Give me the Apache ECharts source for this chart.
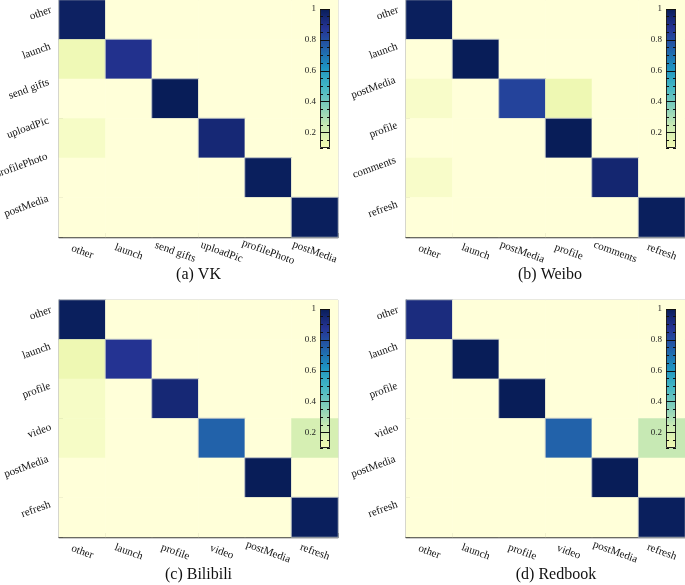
<!DOCTYPE html>
<html><head><meta charset="utf-8">
<script src="https://cdn.jsdelivr.net/npm/echarts@6/dist/echarts.min.js"></script>
<style>html,body{margin:0;padding:0;background:#fff}#c{width:685px;height:585px}</style>
</head><body><div id="c"></div>
<script>
// ---- data ----
const vkCats = ['other','launch','send gifts','uploadPic','profilePhoto','postMedia'];
const vkValues = [
  [0.98,0,0,0,0,0],
  [0.11,0.89,0,0,0,0],
  [0,0,1.0,0,0,0],
  [0.06,0,0,0.94,0,0],
  [0,0,0,0,0.99,0],
  [0,0,0,0,0,0.99]
];
const weiboCats = ['other','launch','postMedia','profile','comments','refresh'];
const weiboValues = [
  [0.99,0,0,0,0,0],
  [0,1.0,0,0,0,0],
  [0.05,0,0.83,0.12,0,0],
  [0,0,0,1.0,0,0],
  [0.05,0,0,0,0.95,0],
  [0,0,0,0,0,0.99]
];
const biliCats = ['other','launch','profile','video','postMedia','refresh'];
const biliValues = [
  [0.99,0,0,0,0,0],
  [0.12,0.88,0,0,0,0],
  [0.06,0,0.94,0,0,0],
  [0.06,0,0,0.74,0,0.20],
  [0,0,0,0,1.0,0],
  [0,0,0,0,0,0.99]
];
const redCats = ['other','launch','profile','video','postMedia','refresh'];
const redValues = [
  [0.92,0,0,0,0,0],
  [0,1.0,0,0,0,0],
  [0,0,1.0,0,0,0],
  [0,0,0,0.74,0,0.25],
  [0,0,0,0,1.0,0],
  [0,0,0,0,0,0.99]
];
const captions = ['(a) VK','(b) Weibo','(c) Bilibili','(d) Redbook'];
const cbTicks = ['0.1','0.15','0.2','0.25','0.3','0.35','0.4','0.45','0.5','0.55','0.6','0.65','0.7','0.75','0.8','0.85','0.9','0.95','1'];
const cbLabels = ['0.2','0.4','0.6','0.8','1'];
const cbRange = [0.1, 1];

// ---- styling / layout ----
const YlGnBu = ['#ffffd9','#edf8b1','#c7e9b4','#7fcdbb','#41b6c4','#1d91c0','#225ea8','#253494','#081d58'];
const FONT = '"Liberation Serif","Times New Roman",serif';
const panels = [
  {cats: vkCats, vals: vkValues, left: 59, top: 0, cap: [198.5, 275], cb: 320},
  {cats: weiboCats, vals: weiboValues, left: 406, top: 0, cap: [550, 275], cb: 666},
  {cats: biliCats, vals: biliValues, left: 59, top: 300, cap: [198.5, 575], cb: 320},
  {cats: redCats, vals: redValues, left: 406, top: 300, cap: [556, 575], cb: 666}
];
const PW = 279, PH = 237;
const ROT = 20 * Math.PI / 180;

const mctx = document.createElement('canvas').getContext('2d');
mctx.font = '11px ' + FONT;
// y labels: raise each rotated label so that its lower-left end sits near the row centre
function yLabelRich(cats) {
  const rich = {t: {fontFamily: FONT, fontSize: 11, color: '#111', lineHeight: 12}};
  cats.forEach((n, k) => {
    const w = mctx.measureText(n).width;
    rich['g' + k] = {fontSize: 1, lineHeight: Math.max(1, Math.round(w * Math.tan(ROT)) - 3)};
  });
  return rich;
}

function hex(c){return [parseInt(c.substr(1,2),16),parseInt(c.substr(3,2),16),parseInt(c.substr(5,2),16)];}
function colorAt(v){
  const t = v*8, i = Math.min(7, Math.floor(t)), f = t - i;
  const a = hex(YlGnBu[i]), b = hex(YlGnBu[i+1]);
  return 'rgb(' + a.map((x,k)=>Math.round(x+(b[k]-x)*f)).join(',') + ')';
}
const stops = [{offset: 0, color: colorAt(cbRange[1])}];
for (let k = 7; k >= 1; k--) {
  const v = k/8;
  if (v > cbRange[0] && v < cbRange[1]) stops.push({offset: (cbRange[1]-v)/(cbRange[1]-cbRange[0]), color: YlGnBu[k]});
}
stops.push({offset: 1, color: colorAt(cbRange[0])});

const grid = [], xAxis = [], yAxis = [], series = [], graphic = [];
const heatIdx = [];
const axisCommon = {
  axisLine: {lineStyle: {color: '#3a3a3a', width: 1.3}},
  axisTick: {show: true, inside: true, length: 4, interval: 0, alignWithLabel: false, lineStyle: {color: '#222'}},
  splitLine: {show: false}, splitArea: {show: false}
};
panels.forEach((p, i) => {
  grid.push({left: p.left, top: p.top, width: PW, height: PH, show: true, borderColor: '#c4c4c4', borderWidth: 1,
    backgroundColor: 'transparent', containLabel: false, outerBoundsMode: 'none'});
  xAxis.push(Object.assign({type: 'category', gridIndex: i, data: p.cats, position: 'bottom',
    axisLabel: {interval: 0, rotate: -20, align: 'center', verticalAlign: 'middle', margin: 15,
      fontFamily: FONT, fontSize: 11, color: '#111'}}, axisCommon));
  yAxis.push(Object.assign({type: 'category', gridIndex: i, data: p.cats, inverse: true, position: 'left',
    axisLabel: {interval: 0, rotate: 20, align: 'right', verticalAlign: 'bottom', margin: 4,
      fontFamily: FONT, fontSize: 11, color: '#111', rich: yLabelRich(p.cats),
      formatter: (v, idx) => '{t|' + v + '}\n{g' + idx + '| }'}}, axisCommon));
  const data = [];
  p.vals.forEach((row, r) => row.forEach((v, c) => {
    const item = {value: [c, r, v]};
    if (v > 0.5) item.itemStyle = {borderColor: 'rgba(190,195,200,0.9)', borderWidth: 1};
    data.push(item);
  }));
  heatIdx.push(series.length);
  series.push({type: 'heatmap', xAxisIndex: i, yAxisIndex: i, data: data,
    emphasis: {disabled: true}, silent: true, progressive: 0, z: 1});
});

panels.forEach((p, i) => {
  const g = grid.length;
  grid.push({left: p.cb, top: p.top + 9, width: 10, height: 139, containLabel: false, outerBoundsMode: 'none'});
  xAxis.push({type: 'category', gridIndex: g, data: ['cb'], show: false});
  const yV = yAxis.length;
  yAxis.push({type: 'value', gridIndex: g, min: cbRange[0], max: cbRange[1], show: false});
  const isLab = (idx, val) => cbLabels.indexOf(val) >= 0;
  const catBase = {type: 'category', gridIndex: g, data: cbTicks, boundaryGap: false,
    axisLine: {show: false}, splitLine: {show: false}, z: 5};
  yAxis.push(Object.assign({}, catBase, {position: 'left',
    axisTick: {show: true, inside: true, length: 5, interval: isLab, lineStyle: {color: '#111', width: 1}},
    axisLabel: {show: true, interval: isLab, margin: 4, fontFamily: FONT, fontSize: 9, color: '#222'}}));
  yAxis.push(Object.assign({}, catBase, {position: 'left',
    axisTick: {show: true, inside: true, length: 3, interval: 0, lineStyle: {color: '#111', width: 1}},
    axisLabel: {show: false}}));
  yAxis.push(Object.assign({}, catBase, {position: 'right',
    axisTick: {show: true, inside: true, length: 5, interval: isLab, lineStyle: {color: '#111', width: 1}},
    axisLabel: {show: false}}));
  yAxis.push(Object.assign({}, catBase, {position: 'right',
    axisTick: {show: true, inside: true, length: 3, interval: 0, lineStyle: {color: '#111', width: 1}},
    axisLabel: {show: false}}));
  series.push({type: 'bar', xAxisIndex: g, yAxisIndex: yV, stack: 'cb' + i, data: [cbRange[0]],
    barWidth: '100%', itemStyle: {color: 'rgba(0,0,0,0)'}, silent: true, z: 2});
  series.push({type: 'bar', xAxisIndex: g, yAxisIndex: yV, stack: 'cb' + i, data: [cbRange[1] - cbRange[0]],
    barWidth: '100%', silent: true, z: 2,
    itemStyle: {color: new echarts.graphic.LinearGradient(0, 0, 0, 1, stops), borderColor: '#222', borderWidth: 1}});
  graphic.push({type: 'text', x: p.cap[0], y: p.cap[1], silent: true,
    style: {text: captions[i], font: '16px ' + FONT, fill: '#111', align: 'center', verticalAlign: 'middle'}});
});

const chart = echarts.init(document.getElementById('c'), null, {renderer: 'canvas'});
chart.setOption({
  animation: false,
  backgroundColor: '#ffffff',
  grid, xAxis, yAxis, series, graphic,
  visualMap: {type: 'continuous', show: false, min: 0, max: 1, seriesIndex: heatIdx,
    dimension: 2, inRange: {color: YlGnBu}}
});
</script>
</body></html>
